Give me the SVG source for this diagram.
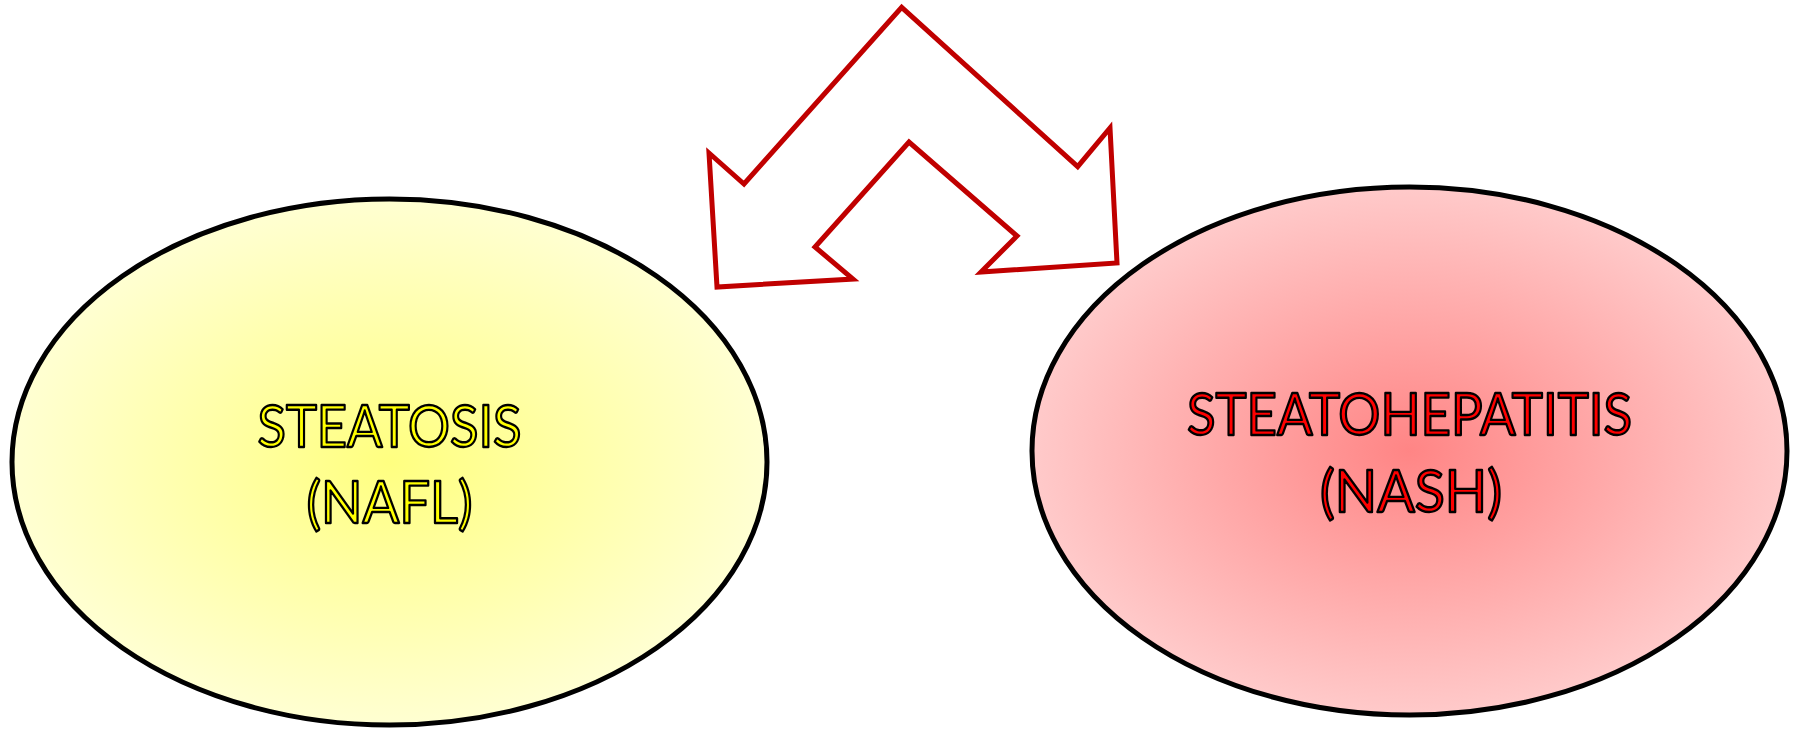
<svg xmlns="http://www.w3.org/2000/svg" width="1796" height="731" viewBox="0 0 1796 731">
  <defs>
    <radialGradient id="gradYellow" cx="0.5" cy="0.5" r="0.5">
      <stop offset="0" stop-color="#FFFF80"/>
      <stop offset="1" stop-color="#FFFFD2"/>
    </radialGradient>
    <radialGradient id="gradRed" cx="0.5" cy="0.5" r="0.5">
      <stop offset="0" stop-color="#FF8585"/>
      <stop offset="1" stop-color="#FFCACA"/>
    </radialGradient>
    <style>
      .oval { stroke: #000000; stroke-width: 5; }
      .label { font-family: Lato, "Open Sans", "Liberation Sans", sans-serif; font-size: 58px; text-anchor: middle; stroke: #000000; stroke-width: 2.4; stroke-linejoin: round; }
      .yellow { fill: #FFFF00; }
      .red { fill: #FF0000; }
      .arrow { fill: #FFFFFF; stroke: #C00000; stroke-width: 5; stroke-linejoin: miter; }
    </style>
  </defs>

  <rect width="1796" height="731" fill="#FFFFFF"/>

  <!-- left node: fatty liver -->
  <g id="node-steatosis">
    <ellipse class="oval" cx="389.5" cy="462" rx="377.5" ry="263" fill="url(#gradYellow)"/>
    <text class="label yellow" x="389.5" y="447" textLength="264" lengthAdjust="spacingAndGlyphs">STEATOSIS</text>
    <text class="label yellow" x="389.5" y="523" textLength="166" lengthAdjust="spacingAndGlyphs">(NAFL)</text>
  </g>

  <!-- right node: steatohepatitis -->
  <g id="node-nash">
    <ellipse class="oval" cx="1409.5" cy="451" rx="377.5" ry="264" fill="url(#gradRed)"/>
    <text class="label red" x="1409.5" y="435" textLength="445" lengthAdjust="spacingAndGlyphs">STEATOHEPATITIS</text>
    <text class="label red" x="1411" y="512" textLength="182" lengthAdjust="spacingAndGlyphs">(NASH)</text>
  </g>

  <!-- two-way bent arrow between the nodes -->
  <g id="connectors">
    <polygon class="arrow" points="901.7,7.3 1077.7,166.7 1110,128 1117,263 981,272 1017,236 909,142 815,247 853,279 717,287 709,153 744,184"/>
  </g>
</svg>
